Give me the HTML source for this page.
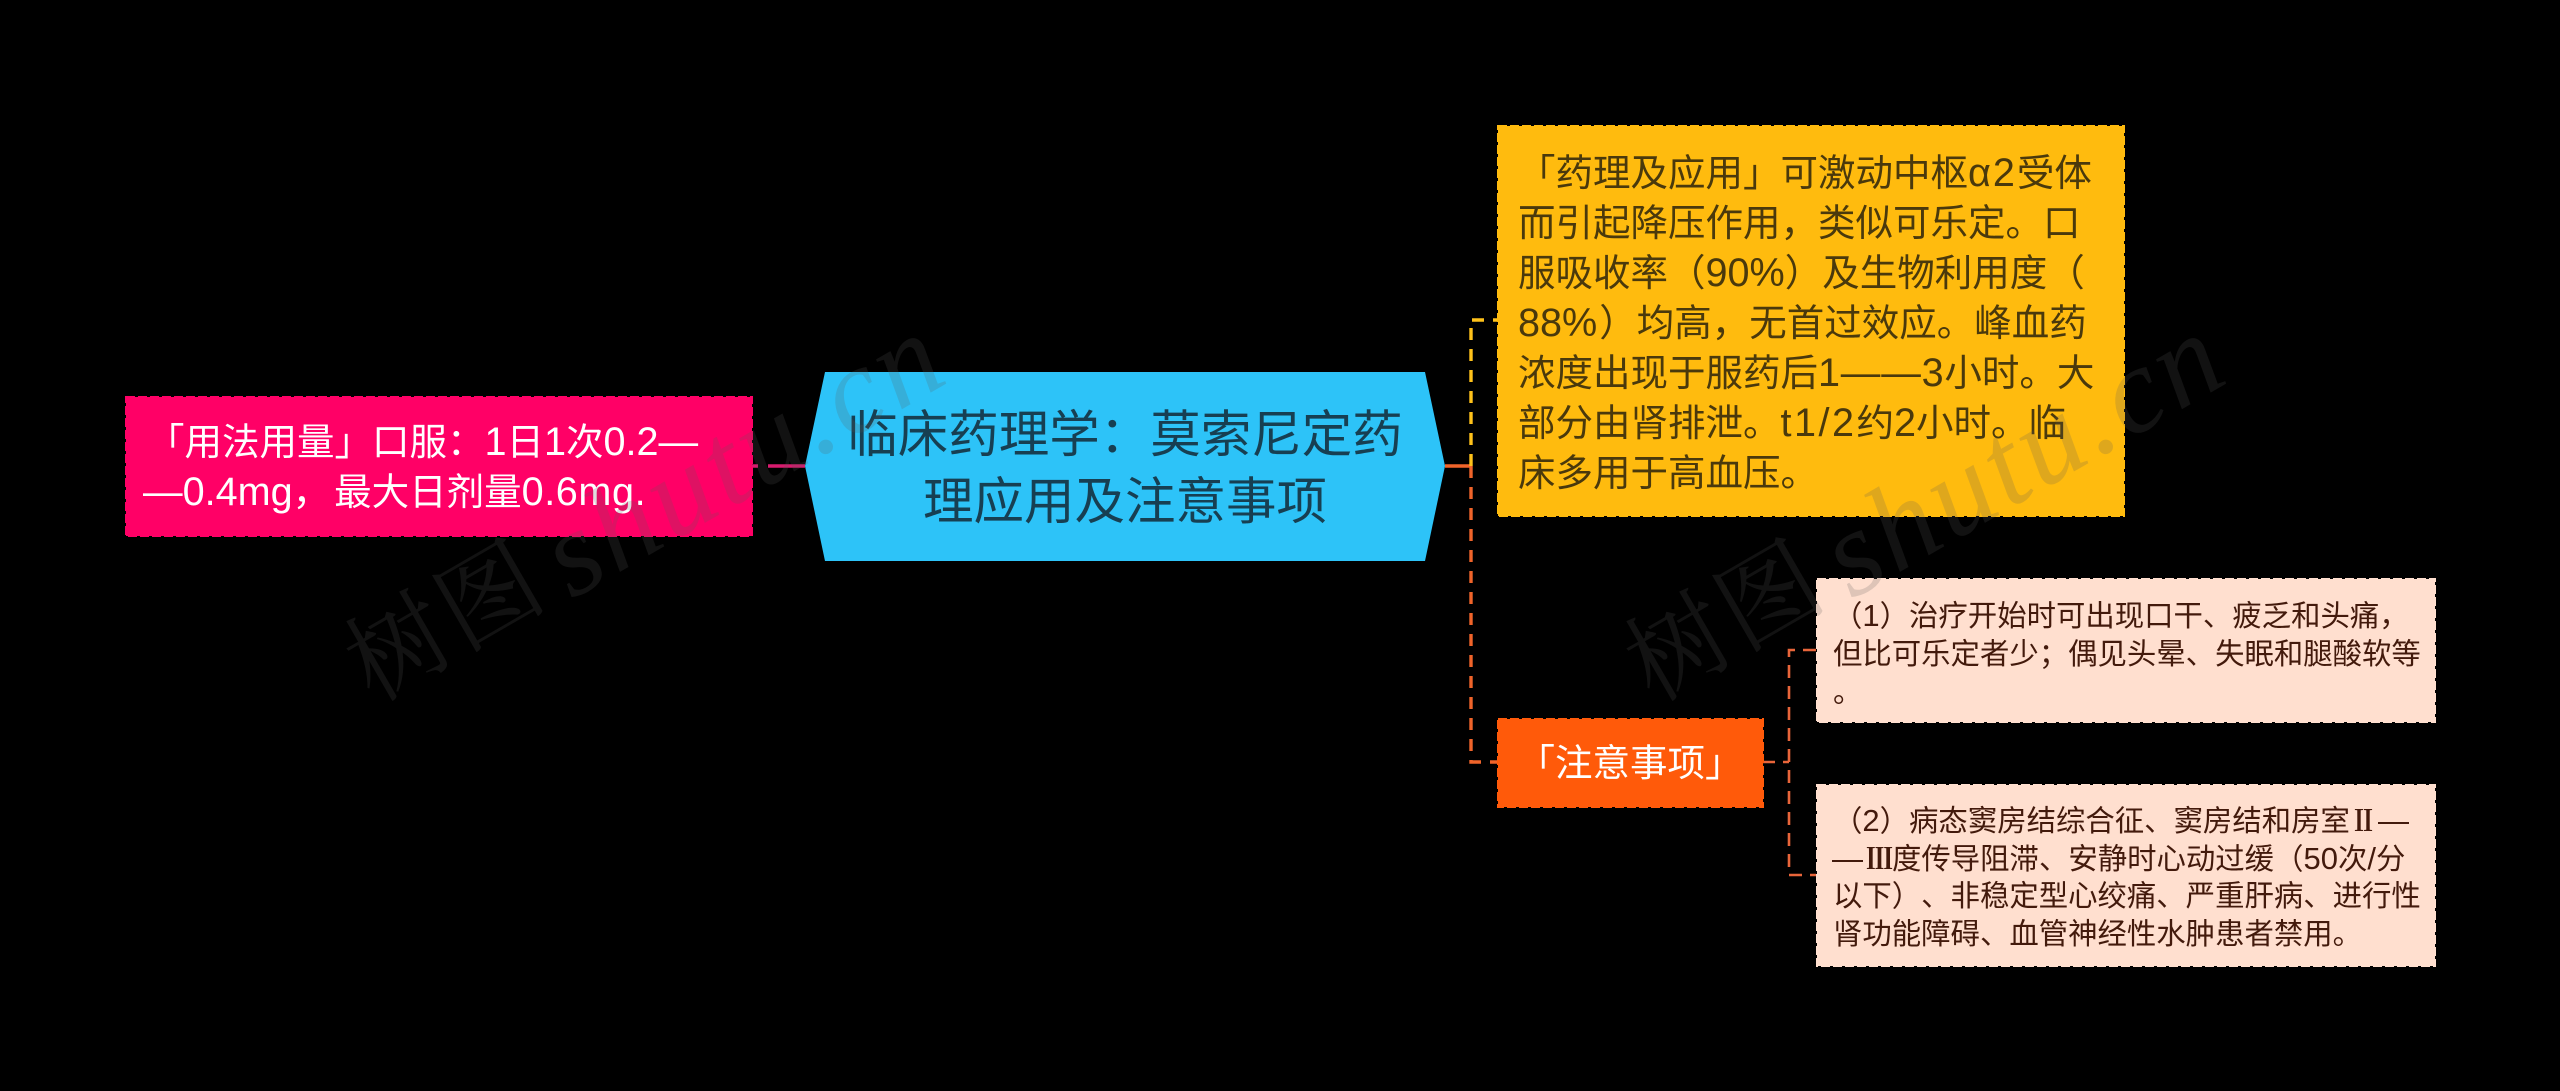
<!DOCTYPE html>
<html lang="zh-CN">
<head>
<meta charset="utf-8">
<title>临床药理学：莫索尼定药理应用及注意事项</title>
<style>
html,body{margin:0;padding:0;background:#000;width:2560px;height:1091px;overflow:hidden}
svg{display:block}
text{font-family:"Liberation Sans","Noto Sans CJK SC",sans-serif;white-space:pre;text-spacing-trim:space-all}
.big .l{font-size:39.6px}
.sm .l{font-size:31px}
text.cjk{font-family:"Noto Serif CJK SC",serif;font-weight:700}
text.wm{font-family:"Liberation Serif","Noto Serif CJK SC",serif;fill:rgba(90,90,90,.2)}
.wm .a{font-size:100px;letter-spacing:4px}
.wm .b{font-size:122px;font-style:italic;letter-spacing:4px}
</style>
</head>
<body>
<svg width="2560" height="1091" viewBox="0 0 2560 1091" xmlns="http://www.w3.org/2000/svg">
<rect width="2560" height="1091" fill="#000"/>

<!-- connectors -->
<g fill="none" stroke-width="3.4">
  <path d="M752 466H805" stroke="#d81b6e" stroke-dasharray="6 10 40"/>
  <path d="M1445 466H1471" stroke="#f0642a"/>
  <path d="M1471 466V320H1497" stroke="#ffc21a" stroke-dasharray="12 9"/>
  <path d="M1471 466V762H1497" stroke="#f0642a" stroke-dasharray="12 9"/>
</g>
<g fill="none" stroke="#e8653a" stroke-width="2.6">
  <path d="M1763 762H1789" stroke-dasharray="12 8"/>
  <path d="M1816 650H1789V875H1816" stroke-dasharray="13 8"/>
</g>

<!-- nodes -->
<polygon points="805,466 825,372 1425,372 1445,466 1425,561 825,561" fill="#2dc3f8"/>
<rect x="126" y="397" width="626" height="139" fill="#ff0066" stroke="#ff0066" stroke-width="2" stroke-dasharray="9 3"/>
<rect x="1498" y="126" width="626" height="390" fill="#ffbb0e" stroke="#ffbb0e" stroke-width="2" stroke-dasharray="9 3"/>
<rect x="1498" y="719" width="265" height="88" fill="#ff5a0a" stroke="#ff5a0a" stroke-width="2" stroke-dasharray="9 3"/>
<rect x="1817" y="579" width="618" height="143" fill="#ffdfcf" stroke="#ffdfcf" stroke-width="2" stroke-dasharray="9 3"/>
<rect x="1817" y="785" width="618" height="181" fill="#ffdfcf" stroke="#ffdfcf" stroke-width="2" stroke-dasharray="9 3"/>

<!-- center -->
<g font-size="50.5" fill="#173f52" text-anchor="middle">
  <text x="1125" y="452">临床药理学：莫索尼定药</text>
  <text x="1125" y="519">理应用及注意事项</text>
</g>

<!-- left -->
<g class="big" font-size="37.5" fill="#ffffff">
  <text x="147" y="455">「用法用量」口服：<tspan class="l">1</tspan>日<tspan class="l">1</tspan>次<tspan class="l">0.2—</tspan></text>
  <text x="143" y="505"><tspan class="l">—0.4mg</tspan>，<tspan dx="4">最</tspan>大日剂量<tspan class="l" letter-spacing="0.6">0.6mg.</tspan></text>
</g>

<!-- yellow -->
<g class="big" font-size="37.5" fill="#4a390c">
  <text x="1518" y="186">「药理及应用」可激动中枢<tspan class="l" letter-spacing="2">α2</tspan>受体</text>
  <text x="1518" y="236">而引起降压作用，类似可乐定。口</text>
  <text x="1518" y="286">服吸收率（<tspan class="l">90%</tspan>）及生物利用度（</text>
  <text x="1518" y="336"><tspan class="l">88%</tspan><tspan dx="2">）</tspan>均高，无首过效应。峰血药</text>
  <text x="1518" y="386">浓度出现于服药后<tspan class="l" letter-spacing="0.8">1——3</tspan>小时。大</text>
  <text x="1518" y="436">部分由肾排泄。<tspan class="l" letter-spacing="2.5">t1/2</tspan>约<tspan class="l">2</tspan>小时。临</text>
  <text x="1518" y="486">床多用于高血压。</text>
</g>

<!-- orange -->
<text x="1630" y="776" font-size="37.5" fill="#ffffff" text-anchor="middle">「注意事项」</text>

<!-- peach 1 -->
<g class="sm" font-size="29.4" fill="#431a0c">
  <text x="1833" y="626">（<tspan class="l">1</tspan>）治疗开始时可出现口干、疲乏和头痛，</text>
  <text x="1833" y="664">但比可乐定者少；偶见头晕、失眠和腿酸软等</text>
  <text x="1833" y="702">。</text>
</g>

<!-- peach 2 -->
<g class="sm" font-size="29.4" fill="#431a0c">
  <text x="1833" y="831">（<tspan class="l">2</tspan>）病态窦房结综合征、窦房结和房室</text>
  <text class="cjk" x="2351" y="831" textLength="25" lengthAdjust="spacingAndGlyphs">Ⅱ</text>
  <text x="2378" y="831"><tspan class="l">—</tspan></text>
  <text x="1832" y="869"><tspan class="l">—</tspan></text>
  <text class="cjk" x="1866" y="869" textLength="27" lengthAdjust="spacingAndGlyphs">Ⅲ</text>
  <text x="1892" y="869">度传导阻滞、安静时心动过缓（<tspan class="l">50</tspan>次<tspan class="l">/</tspan>分</text>
  <text x="1833" y="906">以下）、非稳定型心绞痛、严重肝病、进行性</text>
  <text x="1833" y="944">肾功能障碍、血管神经性水肿患者禁用。</text>
</g>

<!-- watermarks -->
<text class="wm" transform="translate(373 703) rotate(-30)"><tspan class="a">树图</tspan><tspan class="b" dx="-19" dy="10"> shutu.cn</tspan></text>
<text class="wm" transform="translate(1653 703) rotate(-30)"><tspan class="a">树图</tspan><tspan class="b" dx="-19" dy="10"> shutu.cn</tspan></text>
</svg>
</body>
</html>
